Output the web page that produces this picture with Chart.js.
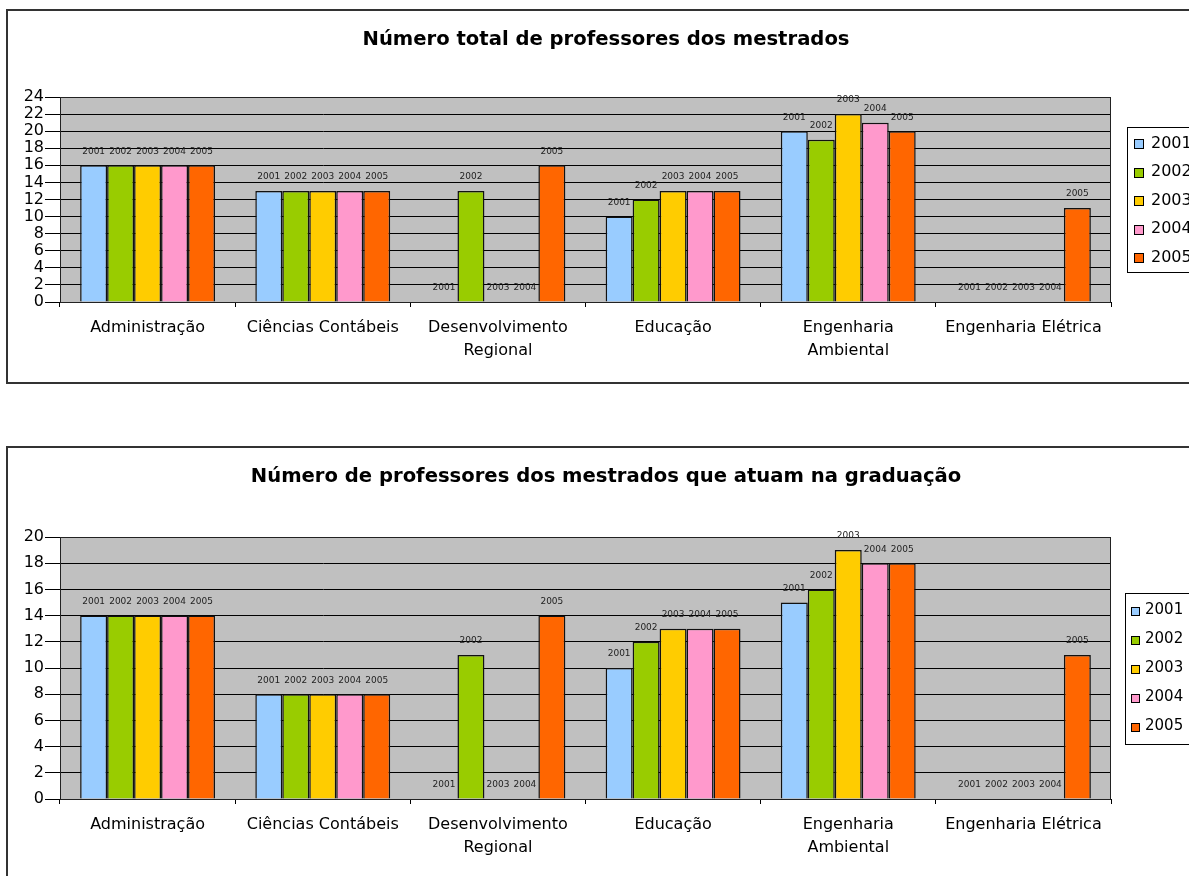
<!DOCTYPE html>
<html>
<head>
<meta charset="utf-8">
<script src="https://cdn.jsdelivr.net/npm/chart.js@4/dist/chart.umd.min.js"></script>
<style>
  html, body { margin: 0; padding: 0; overflow: hidden; background: #fff; }
  .box { position: absolute; left: 6px; width: 1200px; border: 2px solid #333; background: #fff; }
  #box1 { top: 9px; height: 371px; }
  #box2 { top: 446px; height: 440px; }
  canvas { display: block; }
</style>
</head>
<body>
<div class="box" id="box1"><canvas id="chart1" width="1200" height="371"></canvas></div>
<div class="box" id="box2"><canvas id="chart2" width="1200" height="440"></canvas></div>
<script>
// categories and series
const categories = ['Administração', 'Ciências Contábeis', ['Desenvolvimento', 'Regional'], 'Educação', ['Engenharia', 'Ambiental'], 'Engenharia Elétrica'];
const years = ['2001', '2002', '2003', '2004', '2005'];
const colors = ['#99ccff', '#99cc00', '#ffcc00', '#ff99cc', '#ff6600'];

// Número total de professores dos mestrados
const total2001 = [16, 13, 0, 10, 20, 0];
const total2002 = [16, 13, 13, 12, 19, 0];
const total2003 = [16, 13, 0, 13, 22, 0];
const total2004 = [16, 13, 0, 13, 21, 0];
const total2005 = [16, 13, 16, 13, 20, 11];

// Número de professores dos mestrados que atuam na graduação
const grad2001 = [14, 8, 0, 10, 15, 0];
const grad2002 = [14, 8, 11, 12, 16, 0];
const grad2003 = [14, 8, 0, 13, 19, 0];
const grad2004 = [14, 8, 0, 13, 18, 0];
const grad2005 = [14, 8, 14, 13, 18, 11];

Chart.defaults.font.family = 'DejaVu Sans';
Chart.defaults.color = '#000';

// grey plot area with a frame
const plotBg = {
    id: 'plotBg',
    beforeDraw(chart) {
        const a = chart.chartArea, ctx = chart.ctx;
        ctx.save();
        ctx.fillStyle = '#c0c0c0';
        ctx.fillRect(a.left, a.top, a.width, a.height);
        ctx.restore();
    },
    beforeDatasetsDraw(chart) {
        const a = chart.chartArea, ctx = chart.ctx;
        ctx.save();
        ctx.strokeStyle = '#222';
        ctx.lineWidth = 1;
        ctx.strokeRect(a.left + 0.5, a.top + 0.5, a.width - 1, a.height);
        ctx.restore();
    }
};

// title centred on the whole box, not on the plot
const boxTitle = {
    id: 'boxTitle',
    afterDraw(chart, args, opts) {
        const ctx = chart.ctx;
        ctx.save();
        ctx.font = 'bold 19.6px "DejaVu Sans"';
        ctx.fillStyle = '#000';
        ctx.textAlign = 'center';
        ctx.textBaseline = 'middle';
        ctx.fillText(opts.text, 598, opts.y);
        ctx.restore();
    }
};

// year label above every bar
const barLabels = {
    id: 'barLabels',
    afterDatasetsDraw(chart) {
        const ctx = chart.ctx;
        ctx.save();
        ctx.font = '9px "DejaVu Sans"';
        ctx.fillStyle = '#222';
        ctx.textAlign = 'center';
        ctx.textBaseline = 'middle';
        chart.data.datasets.forEach((ds, i) => {
            chart.getDatasetMeta(i).data.forEach(bar => {
                ctx.fillText(ds.label, bar.x, bar.y - 14);
            });
        });
        ctx.restore();
    }
};

// boxed legend to the right of the plot
const boxLegend = {
    id: 'boxLegend',
    afterDraw(chart, args, o) {
        const a = chart.chartArea, ctx = chart.ctx;
        const x = a.right + o.gap;
        const y = Math.round((a.top + a.bottom) / 2 - o.height / 2) + 0.5;
        ctx.save();
        ctx.fillStyle = '#fff';
        ctx.fillRect(x, y, 100, o.height);
        ctx.strokeStyle = '#000';
        ctx.lineWidth = 1;
        ctx.strokeRect(x + 0.5, y, 100, o.height);
        ctx.font = o.fontSize + 'px "DejaVu Sans"';
        ctx.textBaseline = 'middle';
        chart.data.datasets.forEach((ds, i) => {
            const cy = y + o.first + i * o.row;
            const sy = Math.round(cy - o.box / 2);
            ctx.fillStyle = ds.backgroundColor;
            ctx.fillRect(x + o.boxX, sy, o.box, o.box);
            ctx.strokeStyle = '#000';
            ctx.strokeRect(x + o.boxX + 0.5, sy + 0.5, o.box, o.box);
            ctx.fillStyle = '#000';
            ctx.fillText(ds.label, x + o.textX, cy);
        });
        ctx.restore();
    }
};

function makeChart(id, title, series, yMax, topPad, xHeight, legendOpts) {
    return new Chart(document.getElementById(id), {
        type: 'bar',
        data: {
            labels: categories,
            datasets: series.map((values, i) => ({
                label: years[i],
                data: values,
                backgroundColor: colors[i],
                borderColor: '#111',
                borderWidth: 1.5,
                categoryPercentage: 0.77,
                barPercentage: 1.0
            }))
        },
        options: {
            responsive: false,
            animation: false,
            layout: { padding: { left: 0, right: 97, top: topPad, bottom: 0 } },
            scales: {
                x: {
                    grid: { offset: true, drawOnChartArea: false, color: '#000', tickLength: 5 },
                    border: { color: '#000' },
                    ticks: { font: { size: 16, lineHeight: 1.47 }, padding: 9, maxRotation: 0, autoSkip: false },
                    afterFit: scale => { scale.height = xHeight; }
                },
                y: {
                    min: 0,
                    max: yMax,
                    grid: { color: '#000', tickLength: 15 },
                    border: { color: '#000' },
                    ticks: { stepSize: 2, font: { size: 16 }, padding: 1, autoSkip: false },
                    afterFit: scale => { scale.width = 52; }
                }
            },
            plugins: {
                legend: { display: false },
                tooltip: { enabled: false },
                title: { display: false },
                boxTitle: { text: title, y: 29 },
                boxLegend: legendOpts
            }
        },
        plugins: [plotBg, barLabels, boxLegend, boxTitle]
    });
}

const chart1 = makeChart('chart1', 'Número total de professores dos mestrados',
    [total2001, total2002, total2003, total2004, total2005], 24, 86, 80,
    { gap: 16, height: 145, first: 16, row: 28.5, box: 9, boxX: 7, textX: 24, fontSize: 16 });
const chart2 = makeChart('chart2', 'Número de professores dos mestrados que atuam na graduação',
    [grad2001, grad2002, grad2003, grad2004, grad2005], 20, 89, 89,
    { gap: 14, height: 151, first: 17, row: 29, box: 8, boxX: 6, textX: 20, fontSize: 15 });
</script>
</body>
</html>
